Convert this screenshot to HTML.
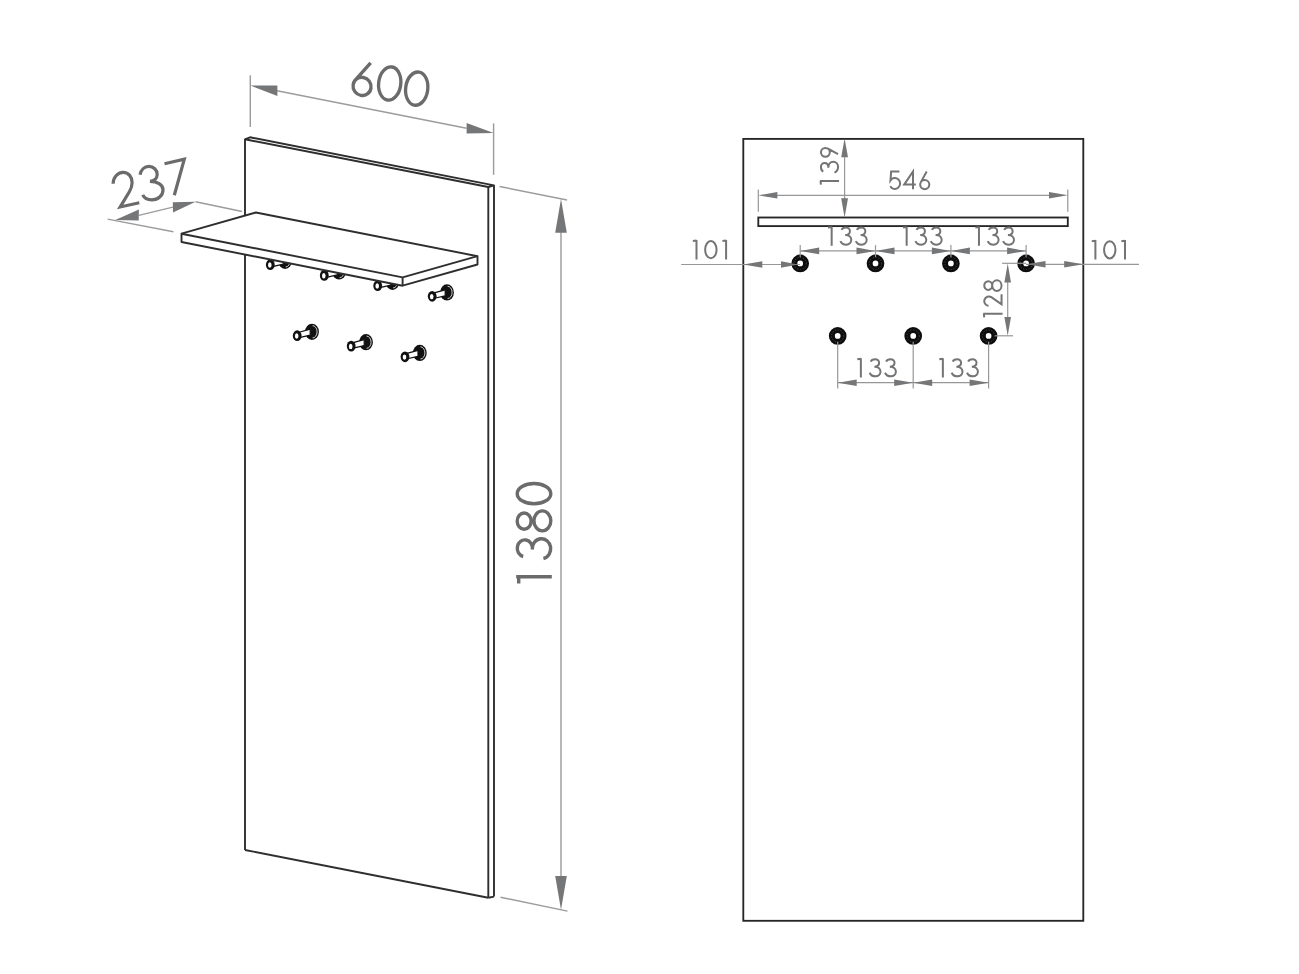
<!DOCTYPE html>
<html><head><meta charset="utf-8"><title>Coat rack dimensions</title>
<style>html,body{margin:0;padding:0;background:#fff;width:1299px;height:974px;overflow:hidden;font-family:"Liberation Sans",sans-serif}svg{display:block}</style>
</head><body><svg width="1299" height="974" viewBox="0 0 1299 974"><ellipse cx="285.1" cy="260.8" rx="6.9" ry="8.1" fill="#111"/><path d="M285.7 254.7A4.5 6.1 0 0 1 285.7 266.9" fill="none" stroke="#fff" stroke-width="0.8"/><path d="M271.3 261.5L283.3 258.2L283.3 264.2L271.3 266.9Z" fill="#fff" stroke="#111" stroke-width="1.2" stroke-linejoin="round"/><ellipse cx="270.3" cy="264.7" rx="4.4" ry="5.4" fill="#111"/><ellipse cx="269.8" cy="265" rx="1.8" ry="2.7" fill="#fff"/><ellipse cx="339.1" cy="271.5" rx="6.9" ry="8.1" fill="#111"/><path d="M339.7 265.4A4.5 6.1 0 0 1 339.7 277.6" fill="none" stroke="#fff" stroke-width="0.8"/><path d="M325.3 272.2L337.3 268.9L337.3 274.9L325.3 277.6Z" fill="#fff" stroke="#111" stroke-width="1.2" stroke-linejoin="round"/><ellipse cx="324.3" cy="275.4" rx="4.4" ry="5.4" fill="#111"/><ellipse cx="323.8" cy="275.7" rx="1.8" ry="2.7" fill="#fff"/><ellipse cx="392.5" cy="281.8" rx="6.9" ry="8.1" fill="#111"/><path d="M393.1 275.7A4.5 6.1 0 0 1 393.1 287.9" fill="none" stroke="#fff" stroke-width="0.8"/><path d="M378.7 282.5L390.7 279.2L390.7 285.2L378.7 287.9Z" fill="#fff" stroke="#111" stroke-width="1.2" stroke-linejoin="round"/><ellipse cx="377.7" cy="285.7" rx="4.4" ry="5.4" fill="#111"/><ellipse cx="377.2" cy="286" rx="1.8" ry="2.7" fill="#fff"/><ellipse cx="447" cy="292.4" rx="6.9" ry="8.1" fill="#111"/><path d="M447.6 286.3A4.5 6.1 0 0 1 447.6 298.5" fill="none" stroke="#fff" stroke-width="0.8"/><path d="M433.2 293.1L445.2 289.8L445.2 295.8L433.2 298.5Z" fill="#fff" stroke="#111" stroke-width="1.2" stroke-linejoin="round"/><ellipse cx="432.2" cy="296.3" rx="4.4" ry="5.4" fill="#111"/><ellipse cx="431.7" cy="296.6" rx="1.8" ry="2.7" fill="#fff"/><ellipse cx="312" cy="331.8" rx="6.9" ry="8.1" fill="#111"/><path d="M312.6 325.7A4.5 6.1 0 0 1 312.6 337.9" fill="none" stroke="#fff" stroke-width="0.8"/><path d="M298.2 332.5L310.2 329.2L310.2 335.2L298.2 337.9Z" fill="#fff" stroke="#111" stroke-width="1.2" stroke-linejoin="round"/><ellipse cx="297.2" cy="335.7" rx="4.4" ry="5.4" fill="#111"/><ellipse cx="296.7" cy="336" rx="1.8" ry="2.7" fill="#fff"/><ellipse cx="366" cy="342.2" rx="6.9" ry="8.1" fill="#111"/><path d="M366.6 336.1A4.5 6.1 0 0 1 366.6 348.3" fill="none" stroke="#fff" stroke-width="0.8"/><path d="M352.2 342.9L364.2 339.6L364.2 345.6L352.2 348.3Z" fill="#fff" stroke="#111" stroke-width="1.2" stroke-linejoin="round"/><ellipse cx="351.2" cy="346.1" rx="4.4" ry="5.4" fill="#111"/><ellipse cx="350.7" cy="346.4" rx="1.8" ry="2.7" fill="#fff"/><ellipse cx="419.8" cy="352.9" rx="6.9" ry="8.1" fill="#111"/><path d="M420.4 346.8A4.5 6.1 0 0 1 420.4 359" fill="none" stroke="#fff" stroke-width="0.8"/><path d="M406 353.6L418 350.3L418 356.3L406 359Z" fill="#fff" stroke="#111" stroke-width="1.2" stroke-linejoin="round"/><ellipse cx="405" cy="356.8" rx="4.4" ry="5.4" fill="#111"/><ellipse cx="404.5" cy="357.1" rx="1.8" ry="2.7" fill="#fff"/><path d="M245 139.3L250 137.3L494 185.4L488.3 187Z" fill="#fff" stroke="#2e2e2e" stroke-width="1.9" stroke-linejoin="round"/><line x1="245" y1="139.3" x2="245" y2="850" stroke="#2e2e2e" stroke-width="1.9"/><line x1="245" y1="850" x2="488.3" y2="897.7" stroke="#2e2e2e" stroke-width="1.9"/><line x1="488.3" y1="187" x2="488.3" y2="897.7" stroke="#2e2e2e" stroke-width="1.9"/><line x1="494" y1="185.4" x2="494" y2="896.6" stroke="#2e2e2e" stroke-width="1.9"/><line x1="488.3" y1="897.7" x2="494" y2="896.6" stroke="#2e2e2e" stroke-width="1.9"/><path d="M181.5 233.7L255.9 212.5L477.5 256.2L477.5 264.5L402.6 285.7L181.5 242Z" fill="#fff" stroke="#2e2e2e" stroke-width="1.9" stroke-linejoin="round"/><line x1="181.5" y1="233.7" x2="402.6" y2="277.4" stroke="#2e2e2e" stroke-width="1.9"/><line x1="402.6" y1="277.4" x2="402.6" y2="285.7" stroke="#2e2e2e" stroke-width="1.9"/><line x1="402.6" y1="277.4" x2="477.5" y2="256.2" stroke="#2e2e2e" stroke-width="1.9"/><line x1="250.3" y1="75.3" x2="250.3" y2="127" stroke="#9c9c9c" stroke-width="1.45"/><line x1="493.6" y1="123.4" x2="493.6" y2="174.8" stroke="#9c9c9c" stroke-width="1.45"/><line x1="277" y1="90.8" x2="466.6" y2="128.2" stroke="#9c9c9c" stroke-width="1.45"/><path d="M250.3 85.5L277.4 96.1L277.4 85.5Z" fill="#757678"/><path d="M493.6 132.9L466.6 133.5L466.6 122.9Z" fill="#757678"/><line x1="107.6" y1="219.1" x2="173.4" y2="231.8" stroke="#9c9c9c" stroke-width="1.45"/><line x1="195.6" y1="201.8" x2="242" y2="211.5" stroke="#9c9c9c" stroke-width="1.45"/><line x1="138.8" y1="215.4" x2="172.9" y2="207.1" stroke="#9c9c9c" stroke-width="1.45"/><path d="M115.2 220L138.7 220.4L138.9 209.6Z" fill="#757678"/><path d="M195.6 201.8L173 212.6L172.8 202.2Z" fill="#757678"/><line x1="499.6" y1="186.5" x2="567" y2="200" stroke="#9c9c9c" stroke-width="1.45"/><line x1="500.5" y1="897.3" x2="567.5" y2="911.1" stroke="#9c9c9c" stroke-width="1.45"/><line x1="561" y1="232" x2="561" y2="876" stroke="#9c9c9c" stroke-width="1.45"/><path d="M561 198.9L566.8 232.7L555.2 232.7Z" fill="#757678"/><path d="M561 909.7L566.8 876L555.2 876Z" fill="#757678"/><rect x="743.3" y="138.9" width="340" height="781.9" fill="none" stroke="#262626" stroke-width="1.85"/><rect x="758.3" y="217.5" width="309.5" height="8.6" fill="none" stroke="#262626" stroke-width="1.85"/><circle cx="800.2" cy="263.4" r="5.85" fill="none" stroke="#0d0d0d" stroke-width="6"/><circle cx="800.2" cy="263.4" r="6.1" fill="none" stroke="#666" stroke-width="0.6" stroke-dasharray="1.2 1.6"/><circle cx="875.5" cy="263.4" r="5.85" fill="none" stroke="#0d0d0d" stroke-width="6"/><circle cx="875.5" cy="263.4" r="6.1" fill="none" stroke="#666" stroke-width="0.6" stroke-dasharray="1.2 1.6"/><circle cx="950.9" cy="263.4" r="5.85" fill="none" stroke="#0d0d0d" stroke-width="6"/><circle cx="950.9" cy="263.4" r="6.1" fill="none" stroke="#666" stroke-width="0.6" stroke-dasharray="1.2 1.6"/><circle cx="1026.1" cy="263.4" r="5.85" fill="none" stroke="#0d0d0d" stroke-width="6"/><circle cx="1026.1" cy="263.4" r="6.1" fill="none" stroke="#666" stroke-width="0.6" stroke-dasharray="1.2 1.6"/><circle cx="837.7" cy="335.9" r="5.85" fill="none" stroke="#0d0d0d" stroke-width="6"/><circle cx="837.7" cy="335.9" r="6.1" fill="none" stroke="#666" stroke-width="0.6" stroke-dasharray="1.2 1.6"/><circle cx="913.2" cy="335.9" r="5.85" fill="none" stroke="#0d0d0d" stroke-width="6"/><circle cx="913.2" cy="335.9" r="6.1" fill="none" stroke="#666" stroke-width="0.6" stroke-dasharray="1.2 1.6"/><circle cx="988.6" cy="335.9" r="5.85" fill="none" stroke="#0d0d0d" stroke-width="6"/><circle cx="988.6" cy="335.9" r="6.1" fill="none" stroke="#666" stroke-width="0.6" stroke-dasharray="1.2 1.6"/><line x1="758.3" y1="189.6" x2="758.3" y2="211.7" stroke="#979797" stroke-width="1.2"/><line x1="1067.8" y1="189.6" x2="1067.8" y2="211.7" stroke="#979797" stroke-width="1.2"/><line x1="775" y1="195.3" x2="1050" y2="195.3" stroke="#979797" stroke-width="1.2"/><path d="M758.3 195.3L777.4 198.6L777.4 192Z" fill="#757678"/><path d="M1067.8 195.3L1049 198.6L1049 192Z" fill="#757678"/><line x1="844.6" y1="155" x2="844.6" y2="200" stroke="#979797" stroke-width="1.2"/><path d="M844.6 138.6L848 157.3L841.2 157.3Z" fill="#757678"/><path d="M844.6 217.4L848 198.3L841.2 198.3Z" fill="#757678"/><line x1="681.2" y1="264.5" x2="800" y2="264.5" stroke="#979797" stroke-width="1.2"/><path d="M743.3 264.5L762.3 267.8L762.3 261.2Z" fill="#757678"/><path d="M798 264.5L781 267.8L781 261.2Z" fill="#757678"/><line x1="1026" y1="264.3" x2="1139" y2="264.3" stroke="#979797" stroke-width="1.2"/><path d="M1027 264.3L1045.5 267.6L1045.5 261Z" fill="#757678"/><path d="M1083.3 264.3L1064.2 267.6L1064.2 261Z" fill="#757678"/><line x1="800.2" y1="245.1" x2="800.2" y2="257.2" stroke="#979797" stroke-width="1.2"/><line x1="875.5" y1="245.1" x2="875.5" y2="257.2" stroke="#979797" stroke-width="1.2"/><line x1="950.9" y1="245.1" x2="950.9" y2="257.2" stroke="#979797" stroke-width="1.2"/><line x1="1026.1" y1="245.1" x2="1026.1" y2="257.2" stroke="#979797" stroke-width="1.2"/><line x1="800.2" y1="250.9" x2="1026.1" y2="250.9" stroke="#979797" stroke-width="1.2"/><path d="M800.2 250.9L819.2 254.2L819.2 247.6Z" fill="#757678"/><path d="M875.5 250.9L856.5 254.2L856.5 247.6Z" fill="#757678"/><path d="M875.5 250.9L894.5 254.2L894.5 247.6Z" fill="#757678"/><path d="M950.9 250.9L931.9 254.2L931.9 247.6Z" fill="#757678"/><path d="M950.9 250.9L969.9 254.2L969.9 247.6Z" fill="#757678"/><path d="M1026.1 250.9L1007.1 254.2L1007.1 247.6Z" fill="#757678"/><line x1="1002.1" y1="263.3" x2="1026" y2="263.3" stroke="#979797" stroke-width="1.2"/><line x1="995" y1="335.8" x2="1013" y2="335.8" stroke="#979797" stroke-width="1.2"/><line x1="1007.7" y1="280" x2="1007.7" y2="318" stroke="#979797" stroke-width="1.2"/><path d="M1007.7 263.4L1011 282.4L1004.4 282.4Z" fill="#757678"/><path d="M1007.7 335.7L1011 317L1004.4 317Z" fill="#757678"/><line x1="837.7" y1="341.8" x2="837.7" y2="388.5" stroke="#979797" stroke-width="1.2"/><line x1="913.2" y1="341.8" x2="913.2" y2="388.5" stroke="#979797" stroke-width="1.2"/><line x1="988.6" y1="341.8" x2="988.6" y2="388.5" stroke="#979797" stroke-width="1.2"/><line x1="837.7" y1="382.7" x2="988.6" y2="382.7" stroke="#979797" stroke-width="1.2"/><path d="M837.7 382.7L856.7 386L856.7 379.4Z" fill="#757678"/><path d="M913.2 382.7L894.2 386L894.2 379.4Z" fill="#757678"/><path d="M913.2 382.7L932.2 386L932.2 379.4Z" fill="#757678"/><path d="M988.6 382.7L969.6 386L969.6 379.4Z" fill="#757678"/><g transform="matrix(1 0 0 1 0 171.55)" stroke="#747474" stroke-width="11.36" fill="none"><g transform="scale(0.176)"><path transform="translate(5052.27 0)" d="M58 0L11 0L7.4 50.2A30 31 0 1 1 6 83.5"/><path transform="translate(5137.5 0)" d="M66 74L0 74L50 0L50 100"/><path transform="translate(5227.27 0)" d="M1 74A26 26 0 1 0 53 74A26 26 0 1 0 1 74M38 0L4.21 61.48"/></g></g><g transform="matrix(1 0 0 1 0 241.05)" stroke="#747474" stroke-width="11.56" fill="none"><g transform="scale(0.173)"><path transform="translate(4010.98 0)" d="M-6 0L15 -2.5M15 -6L15 106"/><path transform="translate(4076.01 0)" d="M0 50A33 50 0 1 0 66 50A33 50 0 1 0 0 50"/><path transform="translate(4182.08 0)" d="M-6 0L15 -2.5M15 -6L15 106"/></g></g><g transform="matrix(1 0 0 1 0 241.15)" stroke="#747474" stroke-width="11.56" fill="none"><g transform="scale(0.173)"><path transform="translate(6316.76 0)" d="M-6 0L15 -2.5M15 -6L15 106"/><path transform="translate(6381.79 0)" d="M0 50A33 50 0 1 0 66 50A33 50 0 1 0 0 50"/><path transform="translate(6487.86 0)" d="M-6 0L15 -2.5M15 -6L15 106"/></g></g><g transform="matrix(1 0 0 1 0 227.55)" stroke="#747474" stroke-width="11.7" fill="none"><g transform="scale(0.171)"><path transform="translate(4848.54 0)" d="M-6 0L15 -2.5M15 -6L15 106"/><path transform="translate(4914.33 0)" d="M7 13.7C10 5 21 0 33 0C46 0 56 9 56 21C56 34 45 43.4 28.4 43.4C49 43.4 64 55 64 72C64 88 51 100 35 100C19 100 6 92 0.3 79"/><path transform="translate(5004.39 0)" d="M7 13.7C10 5 21 0 33 0C46 0 56 9 56 21C56 34 45 43.4 28.4 43.4C49 43.4 64 55 64 72C64 88 51 100 35 100C19 100 6 92 0.3 79"/></g></g><g transform="matrix(1 0 0 1 0 227.55)" stroke="#747474" stroke-width="11.7" fill="none"><g transform="scale(0.171)"><path transform="translate(5287.13 0)" d="M-6 0L15 -2.5M15 -6L15 106"/><path transform="translate(5352.92 0)" d="M7 13.7C10 5 21 0 33 0C46 0 56 9 56 21C56 34 45 43.4 28.4 43.4C49 43.4 64 55 64 72C64 88 51 100 35 100C19 100 6 92 0.3 79"/><path transform="translate(5442.98 0)" d="M7 13.7C10 5 21 0 33 0C46 0 56 9 56 21C56 34 45 43.4 28.4 43.4C49 43.4 64 55 64 72C64 88 51 100 35 100C19 100 6 92 0.3 79"/></g></g><g transform="matrix(1 0 0 1 0 227.55)" stroke="#747474" stroke-width="11.7" fill="none"><g transform="scale(0.171)"><path transform="translate(5709.94 0)" d="M-6 0L15 -2.5M15 -6L15 106"/><path transform="translate(5775.73 0)" d="M7 13.7C10 5 21 0 33 0C46 0 56 9 56 21C56 34 45 43.4 28.4 43.4C49 43.4 64 55 64 72C64 88 51 100 35 100C19 100 6 92 0.3 79"/><path transform="translate(5865.79 0)" d="M7 13.7C10 5 21 0 33 0C46 0 56 9 56 21C56 34 45 43.4 28.4 43.4C49 43.4 64 55 64 72C64 88 51 100 35 100C19 100 6 92 0.3 79"/></g></g><g transform="matrix(1 0 0 1 0 359.25)" stroke="#747474" stroke-width="11.7" fill="none"><g transform="scale(0.171)"><path transform="translate(5019.3 0)" d="M-6 0L15 -2.5M15 -6L15 106"/><path transform="translate(5085.09 0)" d="M7 13.7C10 5 21 0 33 0C46 0 56 9 56 21C56 34 45 43.4 28.4 43.4C49 43.4 64 55 64 72C64 88 51 100 35 100C19 100 6 92 0.3 79"/><path transform="translate(5175.15 0)" d="M7 13.7C10 5 21 0 33 0C46 0 56 9 56 21C56 34 45 43.4 28.4 43.4C49 43.4 64 55 64 72C64 88 51 100 35 100C19 100 6 92 0.3 79"/></g></g><g transform="matrix(1 0 0 1 0 359.25)" stroke="#747474" stroke-width="11.7" fill="none"><g transform="scale(0.171)"><path transform="translate(5498.83 0)" d="M-6 0L15 -2.5M15 -6L15 106"/><path transform="translate(5564.62 0)" d="M7 13.7C10 5 21 0 33 0C46 0 56 9 56 21C56 34 45 43.4 28.4 43.4C49 43.4 64 55 64 72C64 88 51 100 35 100C19 100 6 92 0.3 79"/><path transform="translate(5654.68 0)" d="M7 13.7C10 5 21 0 33 0C46 0 56 9 56 21C56 34 45 43.4 28.4 43.4C49 43.4 64 55 64 72C64 88 51 100 35 100C19 100 6 92 0.3 79"/></g></g><g transform="matrix(0 -1 1 0 820.95 183.15)" stroke="#747474" stroke-width="11.7" fill="none"><g transform="scale(0.171)"><path transform="translate(-2.92 0)" d="M-6 0L15 -2.5M15 -6L15 106"/><path transform="translate(61.11 0)" d="M7 13.7C10 5 21 0 33 0C46 0 56 9 56 21C56 34 45 43.4 28.4 43.4C49 43.4 64 55 64 72C64 88 51 100 35 100C19 100 6 92 0.3 79"/><path transform="translate(153.22 0)" d="M1 26A26 26 0 1 0 53 26A26 26 0 1 0 1 26M16 100L49.79 38.52"/></g></g><g transform="matrix(0 -1 1 0 984.25 316.35)" stroke="#747474" stroke-width="11.56" fill="none"><g transform="scale(0.173)"><path transform="translate(0 0)" d="M-6 0L15 -2.5M15 -6L15 106"/><path transform="translate(59.31 0)" d="M2 25A27 27 0 1 1 52 41L10 100L68 100"/><path transform="translate(146.82 0)" d="M6 23A25 23 0 1 0 56 23A25 23 0 1 0 6 23M0 73A31 27 0 1 0 62 73A31 27 0 1 0 0 73"/></g></g><g transform="matrix(1 0.19 -0.15 1 0 -7.5)" stroke="#6b6b6b" stroke-width="10" fill="none"><g transform="scale(0.33)"><path transform="translate(1081.21 0)" d="M0 74A27 27 0 1 0 54 74A27 27 0 1 0 0 74M42 0L4.21 59.53"/><path transform="translate(1155.45 0)" d="M0 50A33 50 0 1 0 66 50A33 50 0 1 0 0 50"/><path transform="translate(1237.27 0)" d="M0 50A33 50 0 1 0 66 50A33 50 0 1 0 0 50"/></g></g><g fill="none" stroke="#6b6b6b" stroke-width="3.2"><path d="M113.1 183.7C113.1 177.5 117.6 172.4 123.1 172.4C128.6 172.4 132.1 177 132.1 182.6C132.1 186.5 131 189 129.5 191.5L120.2 207L139.3 202.8"/><path d="M140.1 174.8C141 169.6 144.6 166.4 148.9 166.4C153.5 166.4 157.2 170 157.2 174.5C157.2 178.6 153.8 181.4 149.9 181.4C157 181.4 163 184.5 163 189.9C163 195.5 158 199.8 151.9 199.8C147.5 199.8 144 197.6 142.7 194.8"/><path d="M164.5 163.7L184.3 159.1L174.3 195.3"/></g><g transform="matrix(0 -1 1 0 517.2 580)" stroke="#6b6b6b" stroke-width="10.12" fill="none"><g transform="scale(0.336)"><path transform="translate(-5.12 0)" d="M-5 4.5L15 4.5M15 -3L15 103"/><path transform="translate(63.99 0)" d="M6 17.9A25 22.5 0 1 1 27 45A29.8 27.4 0 1 1 0 78"/><path transform="translate(146.13 0)" d="M4.7 20.7A24.3 20.7 0 1 0 53.3 20.7A24.3 20.7 0 1 0 4.7 20.7M0 74.9A29.8 25.1 0 1 0 59.6 74.9A29.8 25.1 0 1 0 0 74.9"/><path transform="translate(226.79 0)" d="M0 50A30.2 50 0 1 0 60.4 50A30.2 50 0 1 0 0 50"/></g></g></svg></body></html>
